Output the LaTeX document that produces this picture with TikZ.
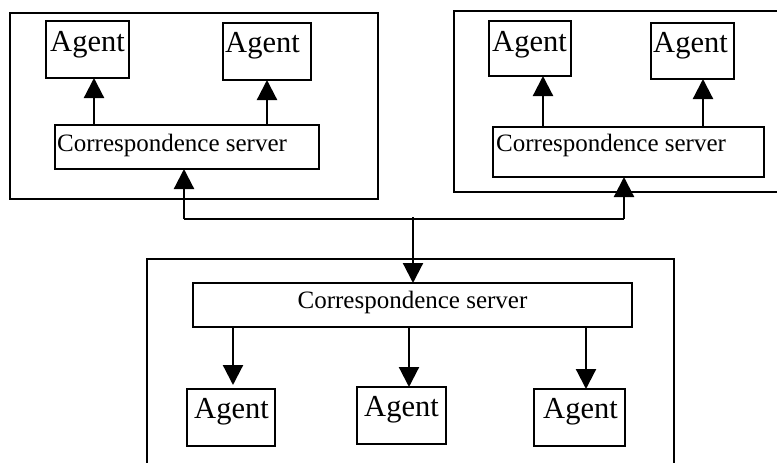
\documentclass[tikz,border=0pt]{standalone}
\usepackage{fontspec}
\setmainfont{Liberation Serif}
\usetikzlibrary{arrows.meta}
\tikzset{
  box/.style={draw, line width=2.4pt, inner sep=0pt, outer sep=0pt, anchor=north west},
  frame/.style={line width=2.5pt},
  agtxt/.style={inner sep=0pt, anchor=base, font=\fontsize{30.5}{31}\selectfont},
  srvtxt/.style={inner sep=0pt, font=\fontsize{25}{26}\selectfont},
  arr/.style={line width=2.2pt, -{Triangle[width=20pt,length=20pt]}},
  conn/.style={line width=2.2pt}
}
\begin{document}
\begin{tikzpicture}[x=1pt,y=-1pt]
\useasboundingbox (0,0) rectangle (777,463);
\fill[white] (0,0) rectangle (777,463);
% outer frames
\node[box, line width=2.5pt, minimum width=368pt, minimum height=186pt] (f1) at (10,13) {};
\draw[frame] (777,11) -- (454,11) -- (454,192) -- (777,192);
\draw[frame] (147,463) -- (147,259) -- (674,259) -- (674,463);
% top-left group
\node[box, minimum width=83pt, minimum height=57pt] (a1) at (46,21) {};
\node[agtxt] (t1) at (87.5,51) {Agent};
\node[box, minimum width=88pt, minimum height=57pt] (a2) at (223,23) {};
\node[agtxt] (t2) at (262.5,52) {Agent};
\node[box, minimum width=264pt, minimum height=44pt] (s1) at (55,125) {};
\node[srvtxt, anchor=base west] (u1) at (57,151) {Correspondence server};
% top-right group
\node[box, minimum width=82pt, minimum height=55pt] (a3) at (489,21) {};
\node[agtxt] (t3) at (529.5,51) {Agent};
\node[box, minimum width=83pt, minimum height=56pt] (a4) at (651,23) {};
\node[agtxt] (t4) at (690.5,52) {Agent};
\node[box, minimum width=271pt, minimum height=50pt] (s2) at (493,127) {};
\node[srvtxt, anchor=base west] (u2) at (496,151) {Correspondence server};
% bottom group
\node[box, minimum width=439pt, minimum height=44pt] (s3) at (193,283) {};
\node[srvtxt, anchor=base] (u3) at (412.5,308) {Correspondence server};
\node[box, minimum width=88pt, minimum height=57pt] (a5) at (187,389) {};
\node[agtxt] (t5) at (231.5,418) {Agent};
\node[box, minimum width=89pt, minimum height=57pt] (a6) at (357,387) {};
\node[agtxt] (t6) at (401.5,416) {Agent};
\node[box, minimum width=91pt, minimum height=57pt] (a7) at (534,389) {};
\node[agtxt] (t7) at (580.5,418) {Agent};
% arrow x positions
\coordinate (x1) at (94,0);
\coordinate (x2) at (267,0);
\coordinate (x3) at (543,0);
\coordinate (x4) at (703,0);
\coordinate (x5) at (233,0);
\coordinate (x6) at (409,0);
\coordinate (x7) at (586,0);
\coordinate (jl) at (184,219);
\coordinate (jr) at (624,219);
\coordinate (j) at (413,219);
% connectors inside groups
\draw[arr] (s1.north -| x1) -- (a1.south -| x1);
\draw[arr] (s1.north -| x2) -- (a2.south -| x2);
\draw[arr] (s2.north -| x3) -- (a3.south -| x3);
\draw[arr] (s2.north -| x4) -- (a4.south -| x4);
\draw[arr] (s3.south -| x5) -- ([yshift=4pt]a5.north -| x5);
\draw[arr] (s3.south -| x6) -- (a6.north -| x6);
\draw[arr] (s3.south -| x7) -- (a7.north -| x7);
% network
\draw[conn] (jl) -- (jr);
\draw[arr] (jl) -- (s1.south -| jl);
\draw[arr] (jr) -- (s2.south -| jr);
\draw[arr] ([yshift=2pt]j) -- (s3.north -| j);
\end{tikzpicture}
\end{document}
